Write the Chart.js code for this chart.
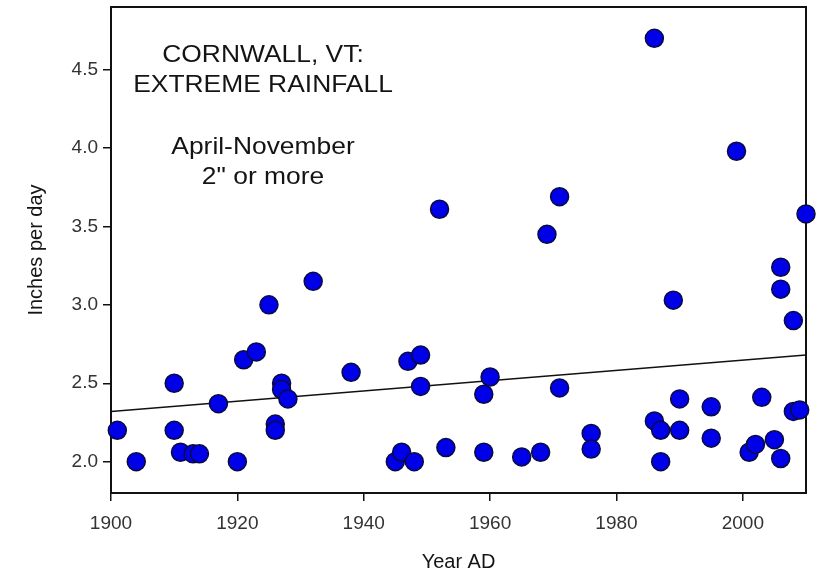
<!DOCTYPE html>
<html>
<head>
<meta charset="utf-8">
<script src="https://cdn.jsdelivr.net/npm/chart.js@4/dist/chart.umd.min.js"></script>
<style>
  html, body { margin: 0; padding: 0; background: #ffffff; }
  #wrap { width: 818px; height: 577px; }
</style>
</head>
<body>
<div id="wrap"><canvas id="c" width="818" height="577"></canvas></div>
<script>
// Days with 2 inches or more of rain, April-November, Cornwall VT
const years = [
  1901, 1904, 1910, 1910, 1911, 1913, 1914, 1917, 1920, 1921,
  1923, 1925, 1926, 1926, 1927, 1927, 1928, 1932, 1938, 1945,
  1946, 1947, 1948, 1949, 1949, 1952, 1953, 1959, 1959, 1960,
  1965, 1968, 1969, 1971, 1971, 1976, 1976, 1986, 1986, 1987,
  1987, 1989, 1990, 1990, 1995, 1995, 1999, 2001, 2002, 2003,
  2005, 2006, 2006, 2006, 2008, 2008, 2009, 2010
];
const inches = [
  2.20, 2.00, 2.50, 2.20, 2.06, 2.05, 2.05, 2.37, 2.00, 2.65,
  2.70, 3.00, 2.24, 2.20, 2.50, 2.46, 2.40, 3.15, 2.57, 2.00,
  2.06, 2.64, 2.00, 2.68, 2.48, 3.61, 2.09, 2.43, 2.06, 2.54,
  2.03, 2.06, 3.45, 3.69, 2.47, 2.18, 2.08, 4.70, 2.26, 2.20,
  2.00, 3.03, 2.40, 2.20, 2.35, 2.15, 3.98, 2.06, 2.11, 2.41,
  2.14, 3.24, 3.10, 2.02, 2.90, 2.32, 2.33, 3.58
];

// Linear trend, end points
const trendYears = [1900, 2010];
const trendInches = [2.32, 2.68];

const xTicks = [1900, 1920, 1940, 1960, 1980, 2000];
const yTicks = [2.0, 2.5, 3.0, 3.5, 4.0, 4.5];

const titleLines = ['CORNWALL, VT:', 'EXTREME RAINFALL'];
const noteLines = ['April-November', '2" or more'];

const FONT = "'Liberation Sans', Arial, Helvetica, sans-serif";

const points = years.map((y, i) => ({ x: y, y: inches[i] }));
const trend = trendYears.map((y, i) => ({ x: y, y: trendInches[i] }));

// Plot box edges inside the 818x577 canvas
const PLOT_TOP = 7;

const noPadding = scale => {
  scale.paddingTop = 0;
  scale.paddingBottom = 0;
  scale.paddingLeft = 0;
  scale.paddingRight = 0;
};

// Keep the plot box top edge fixed after layout
const plotTopPlugin = {
  id: 'plotTop',
  afterLayout(chart) {
    const area = chart.chartArea;
    const delta = area.top - PLOT_TOP;
    if (Math.abs(delta) < 0.5) return;
    area.top = PLOT_TOP;
    area.height = area.bottom - area.top;
    const y = chart.scales.y;
    y.top = PLOT_TOP;
    y.height = y.bottom - y.top;
    y.configure();
  }
};

// Closed frame round the plot area
const framePlugin = {
  id: 'frame',
  beforeDatasetsDraw(chart) {
    const { ctx, chartArea: a } = chart;
    ctx.save();
    ctx.strokeStyle = '#111111';
    ctx.lineWidth = 2;
    ctx.strokeRect(a.left, a.top, a.right - a.left, a.bottom - a.top);
    ctx.restore();
  }
};

// Text block inside the plot
const notesPlugin = {
  id: 'notes',
  afterDraw(chart) {
    const { ctx, chartArea: a } = chart;
    const cx = a.left + 152;
    const draw = (lines, firstBaseline, step) => {
      lines.forEach((t, i) => {
        ctx.save();
        ctx.translate(cx, firstBaseline + i * step);
        ctx.scale(1.1, 1);
        ctx.fillText(t, 0, 0);
        ctx.restore();
      });
    };
    ctx.save();
    ctx.fillStyle = '#141414';
    ctx.font = '24px ' + FONT;
    ctx.textAlign = 'center';
    ctx.textBaseline = 'alphabetic';
    draw(titleLines, a.top + 55, 30);
    draw(noteLines, a.top + 147, 30);
    ctx.restore();
  }
};

new Chart(document.getElementById('c'), {
  data: {
    datasets: [
      {
        type: 'scatter',
        data: points,
        backgroundColor: '#0000e8',
        borderColor: '#0a0a40',
        borderWidth: 1.5,
        pointRadius: 9,
        pointHoverRadius: 9,
        clip: false
      },
      {
        type: 'line',
        data: trend,
        borderColor: '#111111',
        borderWidth: 1.5,
        pointRadius: 0,
        fill: false,
        tension: 0
      }
    ]
  },
  options: {
    responsive: false,
    animation: false,
    devicePixelRatio: 1,
    layout: { padding: { top: PLOT_TOP, right: 12, left: 0, bottom: 0 } },
    plugins: {
      legend: { display: false },
      tooltip: { enabled: false },
      title: { display: false }
    },
    scales: {
      x: {
        type: 'linear',
        position: 'bottom',
        min: 1900,
        max: 2010,
        afterBuildTicks(scale) { scale.ticks = xTicks.map(v => ({ value: v })); },
        afterFit(scale) {
          scale.height = 84;
          noPadding(scale);
        },
        ticks: {
          callback: v => String(v),
          color: '#333333',
          font: { family: FONT, size: 19 },
          padding: 11,
          maxRotation: 0
        },
        grid: {
          display: true,
          drawOnChartArea: false,
          drawTicks: true,
          tickLength: 8,
          color: '#111111',
          lineWidth: 1.5
        },
        border: { display: true, color: '#111111', width: 2 },
        title: {
          display: true,
          text: 'Year AD',
          color: '#141414',
          font: { family: FONT, size: 20 },
          padding: { top: 0, bottom: 3 }
        }
      },
      y: {
        type: 'linear',
        position: 'left',
        min: 1.8,
        max: 4.9,
        afterBuildTicks(scale) { scale.ticks = yTicks.map(v => ({ value: v })); },
        afterFit(scale) {
          scale.width = 111;
          noPadding(scale);
        },
        ticks: {
          callback: v => Number(v).toFixed(1),
          color: '#333333',
          font: { family: FONT, size: 19 },
          padding: 5
        },
        grid: {
          display: true,
          drawOnChartArea: false,
          drawTicks: true,
          tickLength: 8,
          color: '#111111',
          lineWidth: 1.5
        },
        border: { display: true, color: '#111111', width: 2 },
        title: {
          display: true,
          text: 'Inches per day',
          color: '#141414',
          font: { family: FONT, size: 20 },
          padding: { top: 24, bottom: 0 }
        }
      }
    }
  },
  plugins: [plotTopPlugin, framePlugin, notesPlugin]
});
</script>
</body>
</html>
